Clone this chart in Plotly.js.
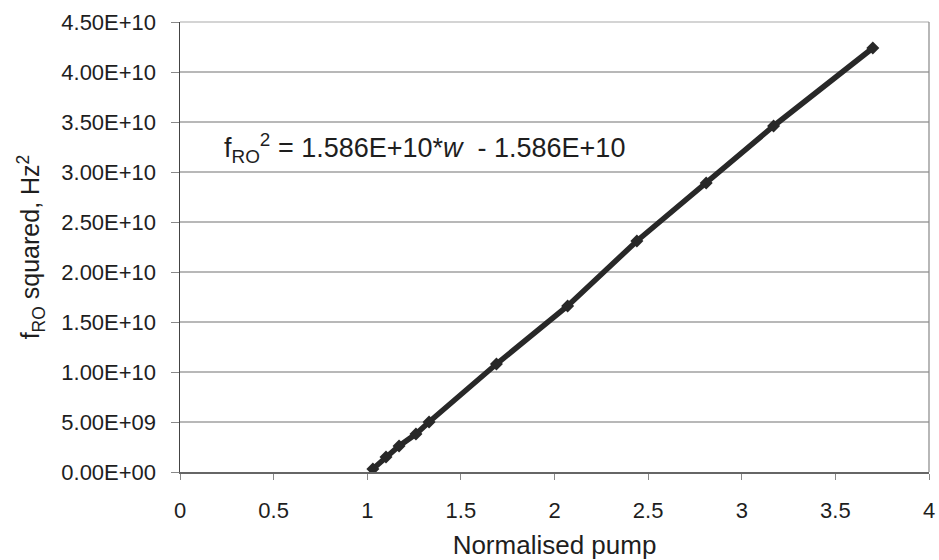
<!DOCTYPE html>
<html>
<head>
<meta charset="utf-8">
<script src="https://cdn.plot.ly/plotly-3.0.1.min.js"></script>
<style>html,body{margin:0;padding:0;background:#fff;}#chart{width:939px;height:560px;}</style>
</head>
<body>
<div id="chart"></div>
<script>
const pumpValues = [1.03, 1.10, 1.17, 1.26, 1.33, 1.69, 2.07, 2.44, 2.81, 3.17, 3.70];
const fRoSquared = [0.03e10, 0.15e10, 0.26e10, 0.38e10, 0.50e10, 1.08e10, 1.66e10, 2.31e10, 2.89e10, 3.46e10, 4.24e10];
const xTickVals = [0, 0.5, 1, 1.5, 2, 2.5, 3, 3.5, 4];
const xTickText = ["0", "0.5", "1", "1.5", "2", "2.5", "3", "3.5", "4"];
const yTickVals = [0, 5e9, 1e10, 1.5e10, 2e10, 2.5e10, 3e10, 3.5e10, 4e10, 4.5e10];
const yTickText = ["0.00E+00", "5.00E+09", "1.00E+10", "1.50E+10", "2.00E+10", "2.50E+10", "3.00E+10", "3.50E+10", "4.00E+10", "4.50E+10"];
const equationText = "f<sub>RO</sub><sup>2</sup> = 1.586E+10*<i>w</i>  - 1.586E+10";

const fam = "Liberation Sans, Arial, sans-serif";
const ink = "#1e1e1e";

const traces = [{
  x: pumpValues,
  y: fRoSquared,
  type: "scatter",
  mode: "lines+markers",
  line: {color: "#282828", width: 5.5},
  marker: {symbol: "diamond", size: 10, color: "#282828"},
  hoverinfo: "x+y"
}];

const layout = {
  width: 939, height: 560,
  margin: {l: 180, r: 10, t: 22, b: 88},
  paper_bgcolor: "#fff", plot_bgcolor: "#fff",
  font: {family: fam, color: ink, size: 22},
  showlegend: false,
  xaxis: {
    range: [0, 4], tickvals: xTickVals, ticktext: xTickText,
    showgrid: false, zeroline: false,
    showline: true, linecolor: "#666", linewidth: 1.5, mirror: false,
    ticks: "outside", ticklen: 6, tickcolor: "#888",
    ticklabelstandoff: 12,
    tickfont: {family: fam, size: 22, color: ink},
    title: {text: "Normalised pump", font: {family: fam, size: 26, color: ink}, standoff: 18}
  },
  yaxis: {
    range: [0, 4.5e10], tickvals: yTickVals, ticktext: yTickText,
    showgrid: true, gridcolor: "#b8b8b8", gridwidth: 1.2, zeroline: false,
    showline: true, linecolor: "#444", linewidth: 1.5,
    ticks: "outside", ticklen: 8, tickcolor: "#888",
    ticklabelstandoff: 10,
    tickfont: {family: fam, size: 22, color: ink},
    title: {text: "f<sub>RO</sub> squared, Hz<sup>2</sup>", font: {family: fam, size: 25, color: ink}, standoff: 14}
  },
  shapes: [
    {type: "line", xref: "paper", yref: "paper", x0: 0, x1: 1, y0: 1, y1: 1, line: {color: "#aaa", width: 1.2}},
    {type: "line", xref: "paper", yref: "paper", x0: 1, x1: 1, y0: 0, y1: 1, line: {color: "#888", width: 1.2}}
  ],
  annotations: [{
    xref: "paper", yref: "paper", x: 0.056, y: 0.72, xanchor: "left", yanchor: "middle",
    text: equationText, showarrow: false,
    font: {family: fam, size: 27, color: ink}
  }]
};

Plotly.newPlot("chart", traces, layout, {displayModeBar: false, staticPlot: true});
</script>
</body>
</html>
